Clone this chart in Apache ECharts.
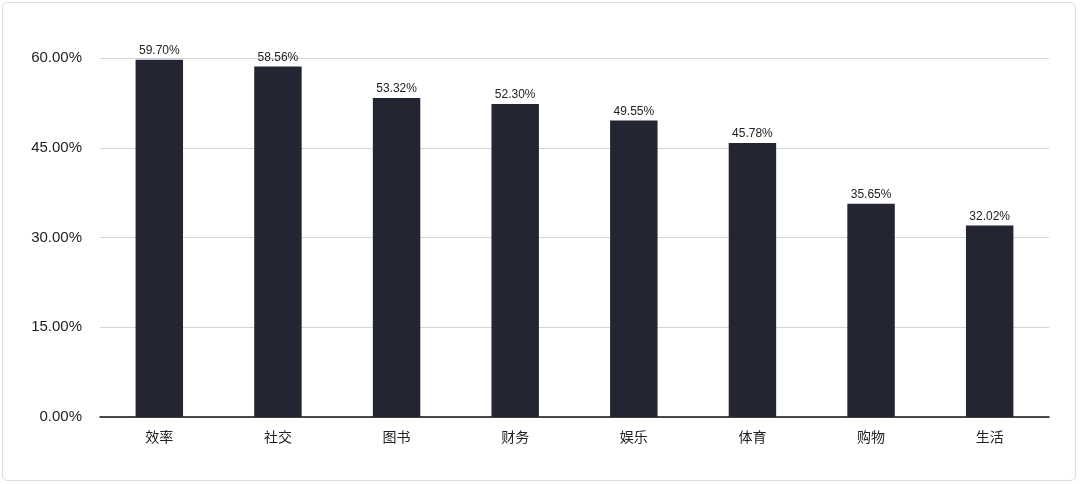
<!DOCTYPE html>
<html>
<head>
<meta charset="utf-8">
<script src="https://cdn.jsdelivr.net/npm/echarts@6/dist/echarts.min.js"></script>
<style>
html,body{margin:0;padding:0;background:#fff;}
#wrap{position:relative;width:1080px;height:484px;}
#chart{position:absolute;left:0;top:0;width:1080px;height:484px;}
#frame{position:absolute;left:2px;top:2px;width:1072px;height:477px;border:1px solid #dedede;border-radius:5px;pointer-events:none;}
</style>
</head>
<body>
<div id="wrap"><div id="chart"></div><div id="frame"></div></div>
<script>
const categories = ['效率','社交','图书','财务','娱乐','体育','购物','生活'];
const values = [59.70, 58.56, 53.32, 52.30, 49.55, 45.78, 35.65, 32.02];
const yTicks = [0, 15, 30, 45, 60];

const chart = echarts.init(document.getElementById('chart'), null, {renderer:'canvas'});
const font = '"Helvetica Neue", "Liberation Sans", Arial, "Noto Sans CJK SC", sans-serif';
chart.setOption({
  animation:false,
  backgroundColor:'#ffffff',
  textStyle:{fontFamily:font},
  grid:{left:100, right:31, top:58, bottom:67, containLabel:false},
  xAxis:{
    type:'category',
    data:categories,
    axisLine:{show:true, lineStyle:{color:'#111', width:1.5}},
    axisTick:{show:false},
    axisLabel:{color:'#222', fontSize:14, margin:13, fontFamily:'"Noto Sans CJK SC", sans-serif'}
  },
  yAxis:{
    type:'value',
    min:yTicks[0], max:yTicks[yTicks.length-1], interval:15,
    axisLine:{show:false},
    axisTick:{show:false},
    splitLine:{lineStyle:{color:'#d4d4d4', width:1}},
    axisLabel:{color:'#222', fontSize:15, margin:18, formatter:v=>v.toFixed(2)+'%'}
  },
  series:[{
    type:'bar',
    data:values,
    barWidth:'40%',
    itemStyle:{color:'#232532'},
    label:{show:true, position:'top', distance:3, color:'#222', fontSize:12, formatter:p=>p.value.toFixed(2)+'%'}
  }]
});
</script>
</body>
</html>
